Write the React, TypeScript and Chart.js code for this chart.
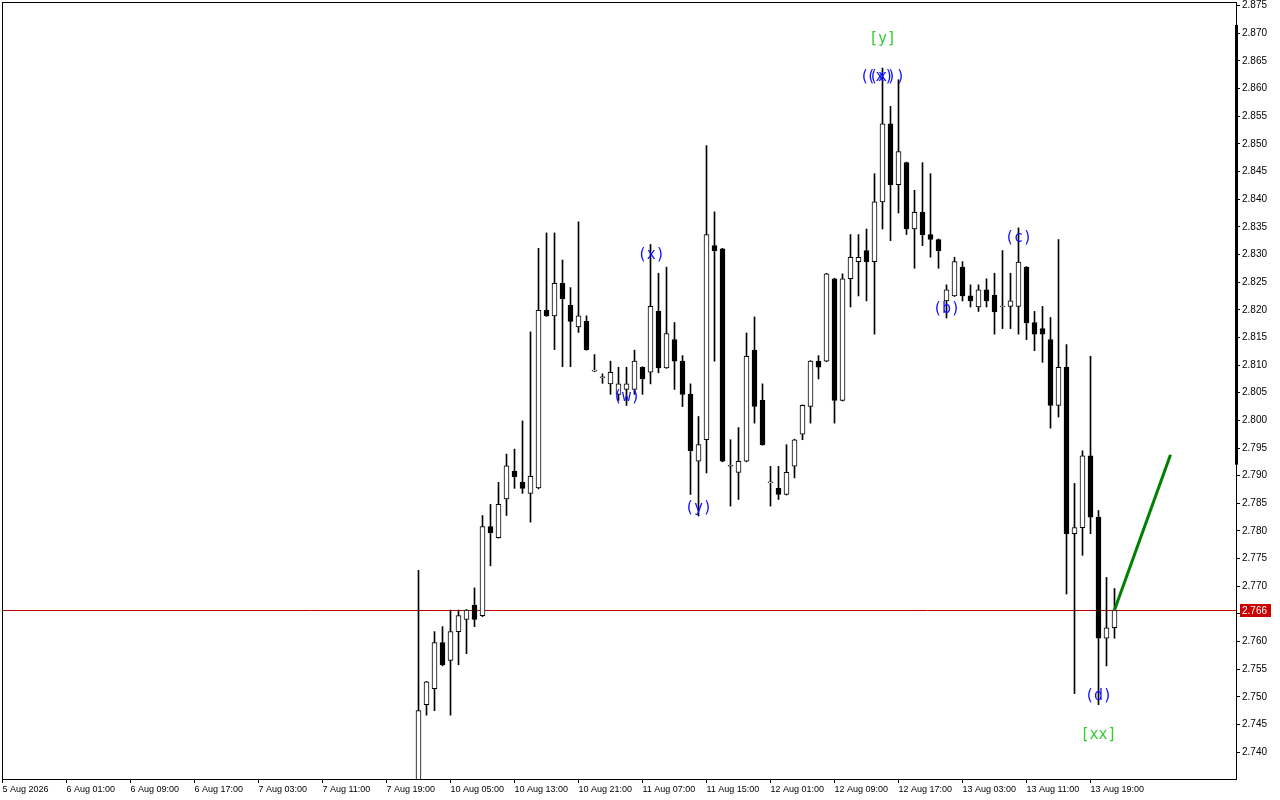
import React, { useEffect, useRef } from "react";
import { Chart, registerables } from "chart.js";

Chart.register(...registerables);

// ---- data ----
const firstBar = 52;
const opens = [
  2.7320, 2.7486, 2.7515, 2.7598, 2.7566, 2.7618, 2.7640, 2.7666, 2.7647, 2.7808,
  2.7788, 2.7858, 2.7908, 2.7888, 2.7868, 2.7878, 2.8199, 2.8189, 2.8248, 2.8208,
  2.8169, 2.8179, 2.8089, 2.8077, 2.8066, 2.8047, 2.8056, 2.8056, 2.8096, 2.8087,
  2.8197, 2.8095, 2.8146, 2.8107, 2.8047, 2.7926, 2.7965, 2.8316, 2.8310, 2.7917,
  2.7906, 2.7926, 2.8127, 2.8036, 2.7887, 2.7877, 2.7866, 2.7917, 2.7975, 2.8025,
  2.8107, 2.8107, 2.8256, 2.8036, 2.8256, 2.8287, 2.8307, 2.8287, 2.8395, 2.8536,
  2.8426, 2.8466, 2.8346, 2.8376, 2.8336, 2.8327, 2.8216, 2.8225, 2.8277, 2.8225,
  2.8205, 2.8236, 2.8226, 2.8205, 2.8206, 2.8206, 2.8277, 2.8177, 2.8166, 2.8146,
  2.8027, 2.8096, 2.7795, 2.7806, 2.7936, 2.7825, 2.7606, 2.7625,
];
const highs = [
  2.7729, 2.7528, 2.7618, 2.7627, 2.7657, 2.7657, 2.7658, 2.7697, 2.7828, 2.7848,
  2.7888, 2.7939, 2.7948, 2.7999, 2.8160, 2.8311, 2.8339, 2.8339, 2.8290, 2.8240,
  2.8359, 2.8189, 2.8119, 2.8084, 2.8107, 2.8096, 2.8096, 2.8127, 2.8097, 2.8318,
  2.8266, 2.8277, 2.8177, 2.8117, 2.8066, 2.8007, 2.8497, 2.8377, 2.8311, 2.7965,
  2.7987, 2.8158, 2.8187, 2.8066, 2.7917, 2.7917, 2.7956, 2.7966, 2.8028, 2.8108,
  2.8117, 2.8266, 2.8257, 2.8265, 2.8336, 2.8336, 2.8346, 2.8446, 2.8637, 2.8568,
  2.8616, 2.8467, 2.8416, 2.8466, 2.8446, 2.8328, 2.8245, 2.8295, 2.8287, 2.8245,
  2.8245, 2.8256, 2.8266, 2.8307, 2.8266, 2.8348, 2.8278, 2.8197, 2.8206, 2.8186,
  2.8327, 2.8137, 2.7886, 2.7945, 2.8116, 2.7837, 2.7716, 2.7696,
];
const lows = [
  2.7300, 2.7467, 2.7475, 2.7556, 2.7467, 2.7558, 2.7578, 2.7627, 2.7645, 2.7737,
  2.7787, 2.7828, 2.7877, 2.7868, 2.7816, 2.7876, 2.8188, 2.8128, 2.8097, 2.8097,
  2.8159, 2.8127, 2.8088, 2.8067, 2.8047, 2.8036, 2.8027, 2.8047, 2.8047, 2.8066,
  2.8086, 2.8094, 2.8056, 2.8025, 2.7866, 2.7827, 2.7905, 2.8107, 2.7925, 2.7845,
  2.7857, 2.7925, 2.7995, 2.7955, 2.7845, 2.7857, 2.7865, 2.7896, 2.7965, 2.7995,
  2.8075, 2.8106, 2.7995, 2.8035, 2.8205, 2.8225, 2.8216, 2.8156, 2.8346, 2.8325,
  2.8375, 2.8336, 2.8275, 2.8316, 2.8295, 2.8275, 2.8185, 2.8224, 2.8216, 2.8205,
  2.8197, 2.8205, 2.8156, 2.8166, 2.8166, 2.8156, 2.8146, 2.8126, 2.8105, 2.7986,
  2.8006, 2.7686, 2.7506, 2.7756, 2.7795, 2.7486, 2.7556, 2.7606,
];
const closes = [
  2.7475, 2.7527, 2.7598, 2.7558, 2.7618, 2.7647, 2.7657, 2.7640, 2.7808, 2.7797,
  2.7848, 2.7918, 2.7898, 2.7877, 2.7899, 2.8199, 2.8189, 2.8248, 2.8220, 2.8179,
  2.8189, 2.8128, 2.8089, 2.8077, 2.8087, 2.8066, 2.8066, 2.8107, 2.8075, 2.8206,
  2.8095, 2.8157, 2.8107, 2.8047, 2.7945, 2.7956, 2.8336, 2.8307, 2.7926, 2.7917,
  2.7926, 2.8116, 2.8025, 2.7956, 2.7887, 2.7866, 2.7906, 2.7965, 2.8027, 2.8107,
  2.8096, 2.8265, 2.8036, 2.8256, 2.8295, 2.8295, 2.8287, 2.8395, 2.8536, 2.8426,
  2.8486, 2.8346, 2.8376, 2.8336, 2.8327, 2.8307, 2.8236, 2.8287, 2.8225, 2.8216,
  2.8236, 2.8216, 2.8196, 2.8205, 2.8216, 2.8286, 2.8176, 2.8156, 2.8156, 2.8027,
  2.8096, 2.7795, 2.7806, 2.7936, 2.7825, 2.7606, 2.7625, 2.7657,
];

const timeTickBars = [0, 8, 16, 24, 32, 40, 48, 56, 64, 72, 80, 88, 96, 104, 112, 120, 128, 136];
const timeLabels = [
  "5 Aug 2026", "6 Aug 01:00", "6 Aug 09:00", "6 Aug 17:00", "7 Aug 03:00", "7 Aug 11:00",
  "7 Aug 19:00", "10 Aug 05:00", "10 Aug 13:00", "10 Aug 21:00", "11 Aug 07:00", "11 Aug 15:00",
  "12 Aug 01:00", "12 Aug 09:00", "12 Aug 17:00", "13 Aug 03:00", "13 Aug 11:00", "13 Aug 19:00",
];
const priceTicks = [
  2.740, 2.745, 2.750, 2.755, 2.760, 2.765, 2.770, 2.775, 2.780, 2.785, 2.790, 2.795, 2.800, 2.805,
  2.810, 2.815, 2.820, 2.825, 2.830, 2.835, 2.840, 2.845, 2.850, 2.855, 2.860, 2.865, 2.870, 2.875,
];
const yMin = 2.73515;
const yMax = 2.87565;

const projBars = [139, 146];
const projValues = [2.7657, 2.7938];

const currentPrice = 2.7657;
const currentPriceText = "2.766";

const waveTexts = ["(w)", "(x)", "(y)", "((x))", "(x)", "(b)", "(c)", "(d)"];
const waveBars = [78, 81.1, 87, 110, 109.7, 118, 127, 137];
const waveValues = [2.8042, 2.8298, 2.7841, 2.8620, 2.8620, 2.8201, 2.8329, 2.7501];

const degreeTexts = ["[y]", "[xx]"];
const degreeBars = [110, 137];
const degreeValues = [2.8689, 2.7431];

// right-axis marker bar (range in price)
const axisMarkTop = 2.8715;
const axisMarkBottom = 2.7920;

const overlayPlugin = {
  id: "mtOverlay",
  beforeDatasetsDraw(chart: any) {
    const { ctx, chartArea, scales } = chart;
    const y = Math.round(scales.y.getPixelForValue(currentPrice)) + 0.5;
    ctx.save();
    ctx.strokeStyle = "#c00000";
    ctx.lineWidth = 1;
    ctx.beginPath();
    ctx.moveTo(chartArea.left, y);
    ctx.lineTo(chartArea.right, y);
    ctx.stroke();
    ctx.restore();
  },
  afterDatasetsDraw(chart: any) {
    const { ctx, scales } = chart;
    ctx.save();
    ctx.font = "15px 'DejaVu Sans Mono'";
    ctx.textAlign = "center";
    ctx.textBaseline = "middle";
    ctx.fillStyle = "#1010ff";
    waveTexts.forEach((t, i) => {
      ctx.fillText(t, scales.x.getPixelForValue(waveBars[i]), scales.y.getPixelForValue(waveValues[i]));
    });
    ctx.fillStyle = "#32cd32";
    degreeTexts.forEach((t, i) => {
      ctx.fillText(t, scales.x.getPixelForValue(degreeBars[i]), scales.y.getPixelForValue(degreeValues[i]));
    });
    ctx.restore();
  },
  afterDraw(chart: any) {
    const { ctx, chartArea, scales } = chart;
    ctx.save();
    ctx.strokeStyle = "#000";
    ctx.lineWidth = 1;
    ctx.strokeRect(chartArea.left + 0.5, chartArea.top + 0.5, chartArea.right - chartArea.left, chartArea.bottom - chartArea.top);
    // thick marker on right axis
    const t = scales.y.getPixelForValue(axisMarkTop);
    const b = scales.y.getPixelForValue(axisMarkBottom);
    ctx.fillStyle = "#000";
    ctx.fillRect(chartArea.right - 1, t, 3, b - t);
    // current price box
    const py = Math.round(scales.y.getPixelForValue(currentPrice)) + 0.5;
    ctx.fillStyle = "#cc0000";
    ctx.fillRect(chartArea.right + 4, py - 6.5, 31, 13);
    ctx.fillStyle = "#fff";
    ctx.font = "10px 'Liberation Sans'";
    ctx.textAlign = "left";
    ctx.textBaseline = "middle";
    ctx.fillText(currentPriceText, chartArea.right + 6, py + 0.5);
    ctx.restore();
  },
};

export default function App() {
  const ref = useRef<HTMLCanvasElement | null>(null);
  useEffect(() => {
    if (!ref.current) return;
    const bars = opens.map((_, i) => firstBar + i);
    const chart = new Chart(ref.current, {
      type: "bar",
      data: {
        datasets: [
          {
            type: "line",
            data: projBars.map((x, i) => ({ x, y: projValues[i] })),
            borderColor: "#008000",
            borderWidth: 3,
            pointRadius: 0,
            order: -1,
          } as any,
          {
            data: bars.map((x, i) => ({ x, y: [opens[i], closes[i]] })),
            backgroundColor: opens.map((o, i) => (closes[i] >= o ? "#ffffff" : "#000000")),
            borderColor: "#000000",
            borderWidth: 1,
            borderSkipped: false,
            barThickness: 5,
            minBarLength: 1,
            grouped: false,
            order: 0,
          } as any,
          {
            data: bars.map((x, i) => ({ x, y: [lows[i], highs[i]] })),
            backgroundColor: "#000000",
            borderWidth: 0,
            barThickness: 1,
            grouped: false,
            order: 1,
          } as any,
        ],
      },
      options: {
        animation: false,
        responsive: true,
        maintainAspectRatio: false,
        layout: { padding: { left: 2, top: 2, right: 0, bottom: 0 } },
        plugins: { legend: { display: false }, tooltip: { enabled: false } },
        scales: {
          x: {
            type: "linear",
            offset: false,
            min: -0.0625,
            max: -0.0625 + 1234 / 8,
            afterBuildTicks: (s: any) => {
              s.ticks = timeTickBars.map((v) => ({ value: v }));
            },
            afterFit: (s: any) => {
              s.height = 21;
              s.paddingLeft = 0;
              s.paddingRight = 0;
            },
            grid: { display: true, offset: false, drawOnChartArea: false, drawTicks: true, tickLength: 4, color: "#000" },
            border: { display: true, color: "#000" },
            ticks: {
              autoSkip: false,
              maxRotation: 0,
              align: "start",
              padding: 1,
              color: "#000",
              font: { family: "'Liberation Sans'", size: 9 },
              callback: (_v: any, i: number) => timeLabels[i],
            },
          } as any,
          y: {
            type: "linear",
            position: "right",
            min: yMin,
            max: yMax,
            afterBuildTicks: (s: any) => {
              s.ticks = priceTicks.map((v) => ({ value: v }));
            },
            afterFit: (s: any) => {
              s.width = 44;
              s.paddingTop = 0;
              s.paddingBottom = 0;
            },
            grid: { display: true, drawOnChartArea: false, drawTicks: true, tickLength: 4, color: "#000" },
            border: { display: true, color: "#000" },
            ticks: {
              autoSkip: false,
              padding: 2,
              color: "#000",
              font: { family: "'Liberation Sans'", size: 10 },
              callback: (v: any) => Number(v).toFixed(3),
            },
          } as any,
        },
      },
      plugins: [overlayPlugin],
    });
    return () => chart.destroy();
  }, []);
  return (
    <div style={{ position: "absolute", left: 0, top: 0, width: 1280, height: 800, background: "#fff" }}>
      <canvas ref={ref} />
    </div>
  );
}
